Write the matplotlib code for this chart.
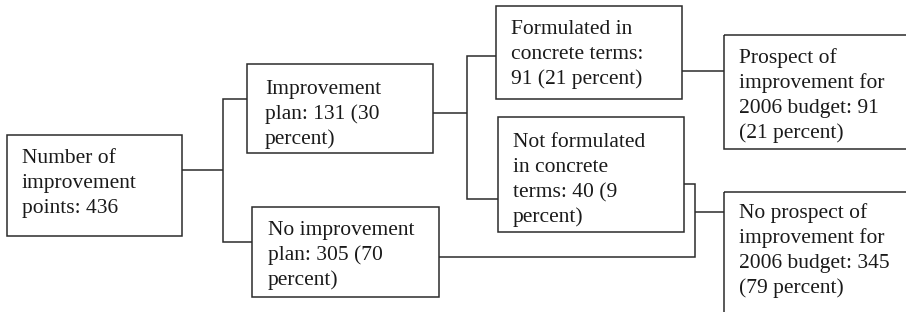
import matplotlib
matplotlib.use("Agg")
import matplotlib.pyplot as plt
from matplotlib.patches import Rectangle

# ---- content ----
labels = [
    ["Number of", "improvement", "points: 436"],
    ["Improvement", "plan: 131 (30", "percent)"],
    ["No improvement", "plan: 305 (70", "percent)"],
    ["Formulated in", "concrete terms:", "91 (21 percent)"],
    ["Not formulated", "in concrete", "terms: 40 (9", "percent)"],
    ["Prospect of", "improvement for", "2006 budget: 91", "(21 percent)"],
    ["No prospect of", "improvement for", "2006 budget: 345", "(79 percent)"],
]

# ---- layout (pixel coordinates, y downward) ----
boxes = [
    (7, 135, 182, 236),
    (247, 64, 433, 153),
    (252, 207, 439, 297),
    (496, 6, 682, 99),
    (498, 117, 684, 232),
    (724, 35, 920, 149),
    (724, 192, 920, 330),
]
text_pos = [
    (22, 163), (265, 94), (268, 235), (511, 34), (513, 147), (739, 63), (739, 218),
]
line_gap = 25

connectors = [
    [(182, 170), (223, 170)],
    [(247, 99), (223, 99), (223, 242), (252, 242)],
    [(433, 113), (467, 113)],
    [(496, 56), (467, 56), (467, 199), (498, 199)],
    [(682, 71), (724, 71)],
    [(684, 184), (695, 184), (695, 257), (439, 257)],
    [(695, 212), (724, 212)],
]

W, H = 906, 312
fig = plt.figure(figsize=(W / 100, H / 100), dpi=100)
ax = fig.add_axes([0, 0, 1, 1])
ax.set_xlim(0, W)
ax.set_ylim(H, 0)
ax.axis("off")

lc = "#2b2b2b"
lw = 1.1
for (x0, y0, x1, y1) in boxes:
    ax.add_patch(Rectangle((x0, y0), x1 - x0, y1 - y0, fill=False,
                           edgecolor=lc, linewidth=lw))
for pts in connectors:
    xs = [p[0] for p in pts]
    ys = [p[1] for p in pts]
    ax.plot(xs, ys, color=lc, linewidth=lw, solid_capstyle="butt",
            solid_joinstyle="miter")

for lines, (tx, ty) in zip(labels, text_pos):
    for i, ln in enumerate(lines):
        ax.text(tx, ty + i * line_gap, ln, family="Liberation Serif",
                fontsize=15.5, color="#1a1a1a", va="baseline", ha="left")

fig.savefig("out.png", dpi=100)
